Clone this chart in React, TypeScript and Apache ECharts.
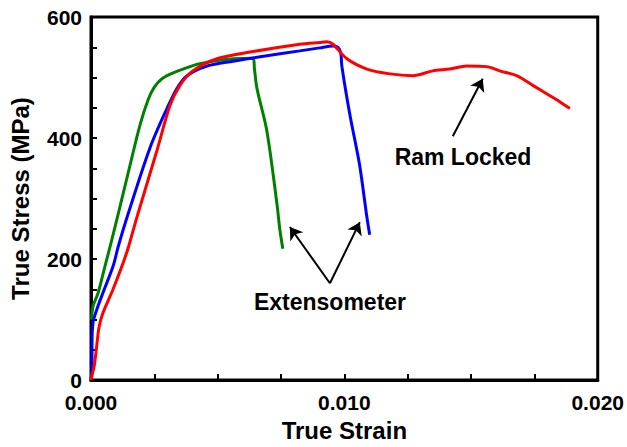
import React, { useEffect, useRef } from "react";
import * as echarts from "echarts";

// Stress-strain records (strain, MPa)
const greenStrain = [0.00002, 0.00008, 0.00028, 0.00055, 0.00075, 0.00107, 0.0015, 0.00193, 0.00225, 0.0025, 0.0028, 0.0032, 0.00363, 0.0043, 0.0056, 0.0064, 0.00645, 0.00655, 0.00694, 0.00734, 0.00745, 0.00757];
const greenStress = [100, 122, 144, 188, 220, 274, 348, 421, 463, 484, 498, 507, 514, 523, 531, 532, 515, 482, 412, 291, 250, 217];

const blueStrain = [0, 0.00004, 0.00004, 0.00008, 0.00024, 0.00047, 0.00087, 0.00107, 0.00146, 0.00233, 0.003, 0.00339, 0.00379, 0.00458, 0.0056, 0.00694, 0.00824, 0.00903, 0.00955, 0.00975, 0.00986, 0.0099, 0.01022, 0.0106, 0.01089, 0.011];
const blueStress = [0, 20, 57, 95, 118, 144, 188, 220, 274, 384, 449, 482, 503, 519, 527, 536, 544, 549, 552, 550, 540, 519, 438, 356, 269, 240];

const redStrain = [0, 0.00004, 0.00012, 0.00018, 0.00024, 0.00032, 0.00047, 0.00087, 0.00142, 0.00181, 0.0026, 0.00312, 0.00351, 0.00402, 0.00497, 0.00627, 0.00824, 0.00903, 0.00931, 0.00955, 0.0101, 0.01089, 0.0118, 0.0127, 0.01349, 0.01416, 0.01483, 0.01562, 0.01613, 0.0168, 0.01744, 0.01811, 0.0185, 0.0189];
const redStress = [0, 8, 22, 40, 62, 88, 111, 150, 212, 269, 379, 454, 487, 511, 531, 542, 555, 558, 559, 555, 531, 514, 506, 503, 511, 514, 519, 518, 511, 503, 487, 470, 460, 449];

// Annotation arrows: [fromStrain, fromStress, toStrain, toStress]
const arrows = [
  [0.00943, 160, 0.00785, 253],
  [0.00943, 160, 0.01061, 261],
  [0.01428, 403, 0.01546, 498],
];

const FONT = "'Liberation Sans', Arial, sans-serif";

const pairs = (xs: number[], ys: number[]) => xs.map((x, i) => [x, ys[i]]);

export default function App() {
  const ref = useRef<HTMLDivElement>(null);

  useEffect(() => {
    if (!ref.current) return;
    const chart = echarts.init(ref.current, undefined, { renderer: "svg" });
    const lineSeries = (name: string, color: string, data: number[][]) => ({
      name,
      type: "line",
      data,
      showSymbol: false,
      smooth: 0.3,
      lineStyle: { color, width: 3 },
      z: 3,
    });
    chart.setOption({
      animation: false,
      backgroundColor: "#fff",
      grid: {
        left: 91,
        right: 29,
        top: 17,
        bottom: 62,
        show: true,
        borderColor: "#000",
        borderWidth: 3,
        backgroundColor: "transparent",
      },
      xAxis: {
        type: "value",
        min: 0,
        max: 0.02,
        interval: 0.0025,
        name: "True Strain",
        nameLocation: "middle",
        nameGap: 35,
        nameTextStyle: { fontFamily: FONT, fontWeight: "bold", fontSize: 24, color: "#000" },
        axisLine: { lineStyle: { color: "#000", width: 3 } },
        axisTick: { inside: true, length: 6, lineStyle: { color: "#000", width: 2 } },
        splitLine: { show: false },
        axisLabel: {
          fontFamily: FONT,
          fontWeight: "bold",
          fontSize: 21,
          color: "#000",
          margin: 12,
          formatter: (v: number) => {
            const k = v / 0.01;
            return Math.abs(k - Math.round(k)) < 1e-6 ? v.toFixed(3) : "";
          },
        },
      },
      yAxis: {
        type: "value",
        min: 0,
        max: 600,
        interval: 50,
        name: "True Stress (MPa)",
        nameLocation: "middle",
        nameGap: 59,
        nameTextStyle: { fontFamily: FONT, fontWeight: "bold", fontSize: 24, color: "#000" },
        axisLine: { lineStyle: { color: "#000", width: 3 } },
        axisTick: { inside: true, length: 6, lineStyle: { color: "#000", width: 2 } },
        splitLine: { show: false },
        axisLabel: {
          fontFamily: FONT,
          fontWeight: "bold",
          fontSize: 21,
          color: "#000",
          margin: 9,
          padding: [0, 0, 3, 0],
          formatter: (v: number) => (v % 200 === 0 ? String(v) : ""),
        },
      },
      series: [
        lineSeries("Extensometer A", "#008000", pairs(greenStrain, greenStress)),
        lineSeries("Extensometer B", "#0000ff", pairs(blueStrain, blueStress)),
        lineSeries("Ram", "#ff0000", pairs(redStrain, redStress)),
        {
          name: "arrows",
          type: "line",
          data: [],
          markLine: {
            silent: true,
            symbol: ["none", "arrow"],
            symbolSize: 12,
            label: { show: false },
            lineStyle: { color: "#000", width: 2, type: "solid" },
            data: arrows.map((a) => [
              { coord: [a[0], a[1]] },
              { coord: [a[2], a[3]] },
            ]),
          },
        },
      ],
      graphic: [
        {
          type: "text",
          x: 330,
          y: 302,
          style: {
            text: "Extensometer",
            font: `bold 23px ${FONT}`,
            fill: "#000",
            align: "center",
            verticalAlign: "middle",
          },
        },
        {
          type: "text",
          x: 463,
          y: 157,
          style: {
            text: "Ram Locked",
            font: `bold 23px ${FONT}`,
            fill: "#000",
            align: "center",
            verticalAlign: "middle",
          },
        },
      ],
    });
    return () => chart.dispose();
  }, []);

  return <div ref={ref} style={{ width: 627, height: 447, position: "absolute", left: 0, top: 0 }} />;
}
